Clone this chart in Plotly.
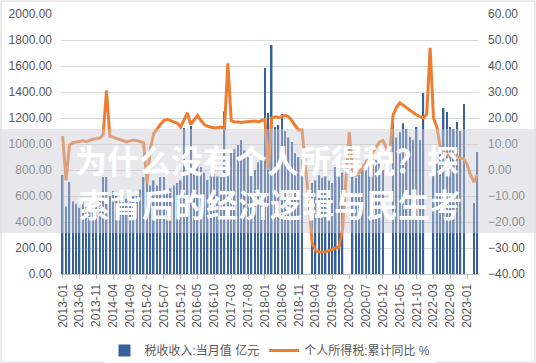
import plotly.graph_objects as go

months = [f"{y}-{m:02d}" for y in range(2013, 2024) for m in range(1, 13)][:124]

tax_income = [
    # 2013
    762, 520, 708, 560, 540, 510, 560, 520, 500, 520, 530, 580,
    # 2014
    746, 746, 600, 640, 600, 580, 620, 580, 570, 600, 600, 650,
    # 2015
    746, 746, 680, 720, 680, 746, 746, 646, 660, 680, 700, 720,
    # 2016
    1123, 760, 1138, 800, 854, 823, 780, 723, 760, 770, 750, 746,
    # 2017
    1250, 880, 954, 960, 992, 1030, 950, 900, 880, 800, 860, 877,
    # 2018
    1585, 1238, 1762, 1131, 1146, 1230, 1100, 1050, 1015, 930, 900, 880,
    # 2019
    None, None, 700, 720, 760, 740, 777, 720, 700, 823, 760, 780,
    # 2020
    None, None, 750, 740, 760, 800, 877, 870, 880, 877, 877, 800,
    # 2021
    None, None, 1238, 1050, 1092, 1160, 1115, 1054, 1030, 1131, 1030, 1392,
    # 2022
    None, None, 892, 869, 980, 1277, 1246, 1131, 1115, 1170, 1100, 1308,
    # 2023
    None, None, 546, 938,
]

pit_yoy = [
    # 2013
    13, -4, 9.6, 10.5, 10.8, 11, 11.2, 11, 11.5, 11.8, 12, 12.3,
    # 2014
    13.5, 30.5, 13, 12.5, 12, 11.5, 11, 10.8, 11.2, 11.5, 11.3, 11,
    # 2015
    10.5, -5, 8, 14, 16, 17.5, 19, 19.5, 19, 18.5, 18, 16.5,
    # 2016
    19, 22, 17.5, 19.5, 21, 19, 17.5, 16.8, 16.5, 16.2, 16.3, 16.5,
    # 2017
    16, 41, 19, 18.5, 18.5, 18.3, 18.5, 18.6, 18.7, 18.8, 18.5, 19,
    # 2018
    19.5, 0, 20, 20.5, 20.2, 20.5, 21, 20.5, 19, 17, 15.4, 15.4,
    # 2019
    2, -12, -28, -31, -31.5, -31.5, -31.5, -31, -30.5, -30, -29.5, -23,
    # 2020
    -6, 14.6, 0, -2, -1, 1, 3, 5, 7, 9, 10.8, 11.4,
    # 2021
    9, 6, 21, 24, 25.8, 25, 24, 23, 22, 21.2, 20.5, 20,
    # 2022
    21.5, 47, 20, 16.5, 9, 7, 6, 5.5, 5.5, 5, 4.5, 4.2,
    # 2023
    2, -2, -4.6, -2,
]

tick_labels = months[::5]

bar_name = "税收收入:当月值 亿元"
line_name = "个人所得税:累计同比 %"
overlay_line1 = "为什么没有个人所得税？探"
overlay_line2 = "索背后的经济逻辑与民生考"

W, H = 536, 363
L, R, T, B = 61, 479, 14, 274


def px(x):
    return (x - L) / (R - L)


def py(y):
    return (B - y) / (B - T)


font_family = "Arial, Liberation Sans, Noto Sans CJK SC, sans-serif"
grey = "#595959"

fig = go.Figure()
fig.add_trace(go.Bar(
    x=months, y=tax_income, name=bar_name,
    marker=dict(color="#36609e", line=dict(width=0)),
    yaxis="y",
))
fig.add_trace(go.Scatter(
    x=months, y=pit_yoy, name=line_name, mode="lines",
    line=dict(color="#ED7D31", width=3),
    connectgaps=True, yaxis="y2",
))

fig.update_layout(
    width=W, height=H,
    margin=dict(l=L, r=W - R, t=T, b=H - B, autoexpand=False),
    paper_bgcolor="white", plot_bgcolor="white",
    bargap=0.55,
    font=dict(family=font_family, size=12, color=grey),
    showlegend=True,
    legend=dict(orientation="h", x=0.5, xanchor="center", y=py(336), yanchor="top",
                font=dict(size=12, color=grey), itemwidth=30, traceorder="normal"),
    xaxis=dict(
        type="category", tickmode="array", tickvals=tick_labels, ticktext=tick_labels,
        tickangle=-90, showgrid=False, showline=True, linecolor="#bfbfbf", linewidth=1,
        ticks="outside", ticklen=4, tickcolor="#bfbfbf", automargin=False,
        tickfont=dict(size=12, color=grey), range=[-0.5, len(months) - 0.5],
    ),
    yaxis=dict(
        range=[0, 2000], dtick=200, tickformat=".2f", showgrid=True,
        gridcolor="#d9d9d9", gridwidth=1, zeroline=False, showline=False, automargin=False,
        tickfont=dict(size=12, color=grey), ticklabelstandoff=8,
    ),
    yaxis2=dict(
        range=[-40, 60], dtick=10, tickformat=".2f", overlaying="y", side="right",
        showgrid=False, zeroline=False, showline=False, automargin=False,
        tickfont=dict(size=12, color=grey), ticklabelstandoff=8,
    ),
)

shapes = [
    dict(type="rect", xref="paper", yref="paper",
         x0=px(0), x1=px(W), y0=py(233), y1=py(129),
         fillcolor="rgba(205,205,212,0.45)", line=dict(width=0), layer="above"),
    dict(type="rect", xref="paper", yref="paper",
         x0=px(1), x1=px(W - 1), y0=py(H - 1), y1=py(1),
         fillcolor="rgba(0,0,0,0)", line=dict(color="#d9d9d9", width=1), layer="above"),
]
fig.update_layout(shapes=shapes)

fig.add_annotation(text=f"<b>{overlay_line1}</b>", xref="paper", yref="paper",
                   x=px(267), y=py(159), xanchor="center", yanchor="middle", showarrow=False,
                   font=dict(family="Noto Sans CJK SC", size=32, color="white"))
fig.add_annotation(text=f"<b>{overlay_line2}</b>", xref="paper", yref="paper",
                   x=px(270), y=py(203), xanchor="center", yanchor="middle", showarrow=False,
                   font=dict(family="Noto Sans CJK SC", size=32, color="white"))

fig.write_html(
    "out.html",
    config={"displayModeBar": False},
    post_script="document.body.style.margin='0';document.body.style.padding='0';",
)
